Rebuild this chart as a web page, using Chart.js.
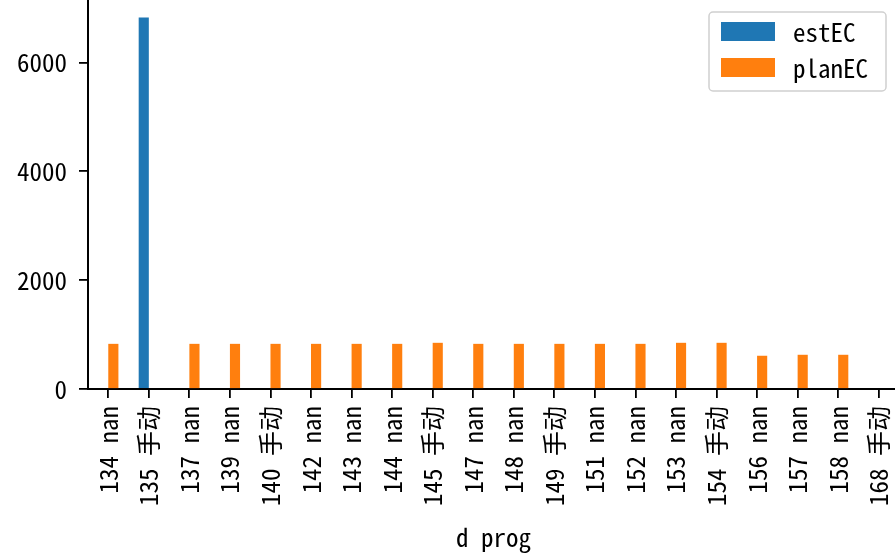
<!DOCTYPE html>
<html lang="zh">
<head>
    <meta charset="UTF-8">
    <title>estEC / planEC</title>
    <style>
        html, body { margin: 0; padding: 0; background: #fff; overflow: hidden; }
        #wrap { width: 900px; height: 554px; }
        canvas { display: block; }
    </style>
</head>
<body>
    <div id="wrap">
        <canvas id="chart" width="900" height="554"></canvas>
    </div>

    <script src="https://cdn.jsdelivr.net/npm/chart.js"></script>
    <script>
        // data
        const categories = ['134 nan', '135 手动', '137 nan', '139 nan', '140 手动', '142 nan', '143 nan',
            '144 nan', '145 手动', '147 nan', '148 nan', '149 手动', '151 nan', '152 nan', '153 nan',
            '154 手动', '156 nan', '157 nan', '158 nan', '168 手动'];
        const estEC = [null, 6830, null, null, null, null, null, null, null, null,
            null, null, null, null, null, null, null, null, null, null];
        const planEC = [830, null, 830, 830, 830, 830, 830, 830, 849, 830,
            830, 830, 830, 830, 849, 849, 611, 629, 629, null];
        const yTicks = [0, 2000, 4000, 6000];
        const yMax = 7150;

        // the source used a half-width CJK font (SimHei); the mono CJK face is the nearest one here
        const probe = document.createElement('canvas').getContext('2d');
        probe.font = "25px 'Noto Sans Mono CJK SC', serif";
        const w1 = probe.measureText('il0W 手').width;
        probe.font = '25px serif';
        const w2 = probe.measureText('il0W 手').width;
        const hasMonoCJK = Math.abs(w1 - w2) > 0.5;

        const cjkMono = "'Noto Sans Mono CJK SC', 'DejaVu Sans Mono', monospace";
        const tickFont = hasMonoCJK
            ? { family: cjkMono, size: 25 }
            : { family: "'Liberation Sans', Arial, 'Noto Sans CJK SC', sans-serif", size: 21 };
        const monoFont = hasMonoCJK ? "25px " + cjkMono : "21px 'DejaVu Sans Mono', monospace";

        // matplotlib-style framed legend, top right of the plot
        const boxLegend = {
            id: 'boxLegend',
            afterDraw(chart) {
                const c = chart.ctx;
                const area = chart.chartArea;
                const w = 177, h = 79;
                const x = area.right - 13 - w, y = area.top + 12;
                c.save();
                c.beginPath();
                c.roundRect(x, y, w, h, 4);
                c.fillStyle = 'rgba(255,255,255,0.8)';
                c.fill();
                c.lineWidth = 1.5;
                c.strokeStyle = '#d0d0d0';
                c.stroke();
                c.font = monoFont;
                c.textBaseline = 'middle';
                chart.data.datasets.forEach(function(ds, i) {
                    const ry = y + 10 + i * 36;
                    c.fillStyle = ds.backgroundColor;
                    c.fillRect(x + 12, ry, 54, 19);
                    c.fillStyle = '#000';
                    c.fillText(ds.label, x + 84, ry + 10);
                });
                c.restore();
            }
        };

        const ctx = document.getElementById('chart').getContext('2d');
        const myChart = new Chart(ctx, {
            type: 'bar',
            data: {
                labels: categories,
                datasets: [
                    { label: 'estEC', data: estEC, backgroundColor: '#1f77b4' },
                    { label: 'planEC', data: planEC, backgroundColor: '#ff7f0e' }
                ]
            },
            options: {
                responsive: false,
                animation: false,
                layout: { autoPadding: false, padding: { top: 0, right: 1, left: 0, bottom: 0 } },
                datasets: { bar: { categoryPercentage: 0.5, barPercentage: 1.0 } },
                plugins: {
                    legend: { display: false },
                    tooltip: { enabled: false }
                },
                scales: {
                    x: {
                        offset: true,
                        grid: { offset: false, drawOnChartArea: false, drawTicks: true, tickLength: 9, color: '#000', lineWidth: 1.8 },
                        border: { display: true, color: '#000', width: 2 },
                        ticks: {
                            color: '#000',
                            font: tickFont,
                            minRotation: 90,
                            maxRotation: 90,
                            padding: hasMonoCJK ? 8 : 10,
                            autoSkip: false,
                            callback: function(v) {
                                const s = this.getLabelForValue(v);
                                return hasMonoCJK ? s : s.replace(' ', '\u2002\u2009');
                            }
                        },
                        title: {
                            display: true,
                            text: 'd prog',
                            color: '#000',
                            font: hasMonoCJK ? { family: cjkMono, size: 25 } : { family: "'DejaVu Sans Mono', monospace", size: 21 },
                            padding: { top: 0, bottom: 2 }
                        },
                        afterFit: function(scale) {
                            scale.height = 165;
                            scale.paddingLeft = 0;
                            scale.paddingRight = 0;
                        }
                    },
                    y: {
                        min: 0,
                        max: yMax,
                        grid: { drawOnChartArea: false, drawTicks: true, tickLength: 9, color: '#000', lineWidth: 1.8 },
                        border: { display: true, color: '#000', width: 2 },
                        ticks: {
                            color: '#000',
                            font: tickFont,
                            padding: hasMonoCJK ? 12 : 14,
                            callback: function(v) { return String(v); }
                        },
                        afterBuildTicks: function(scale) {
                            scale.ticks = yTicks.map(function(v) { return { value: v }; });
                        },
                        afterFit: function(scale) {
                            scale.width = 88;
                            scale.paddingTop = 0;
                            scale.paddingBottom = 0;
                        }
                    }
                }
            },
            plugins: [boxLegend]
        });
    </script>
</body>
</html>
